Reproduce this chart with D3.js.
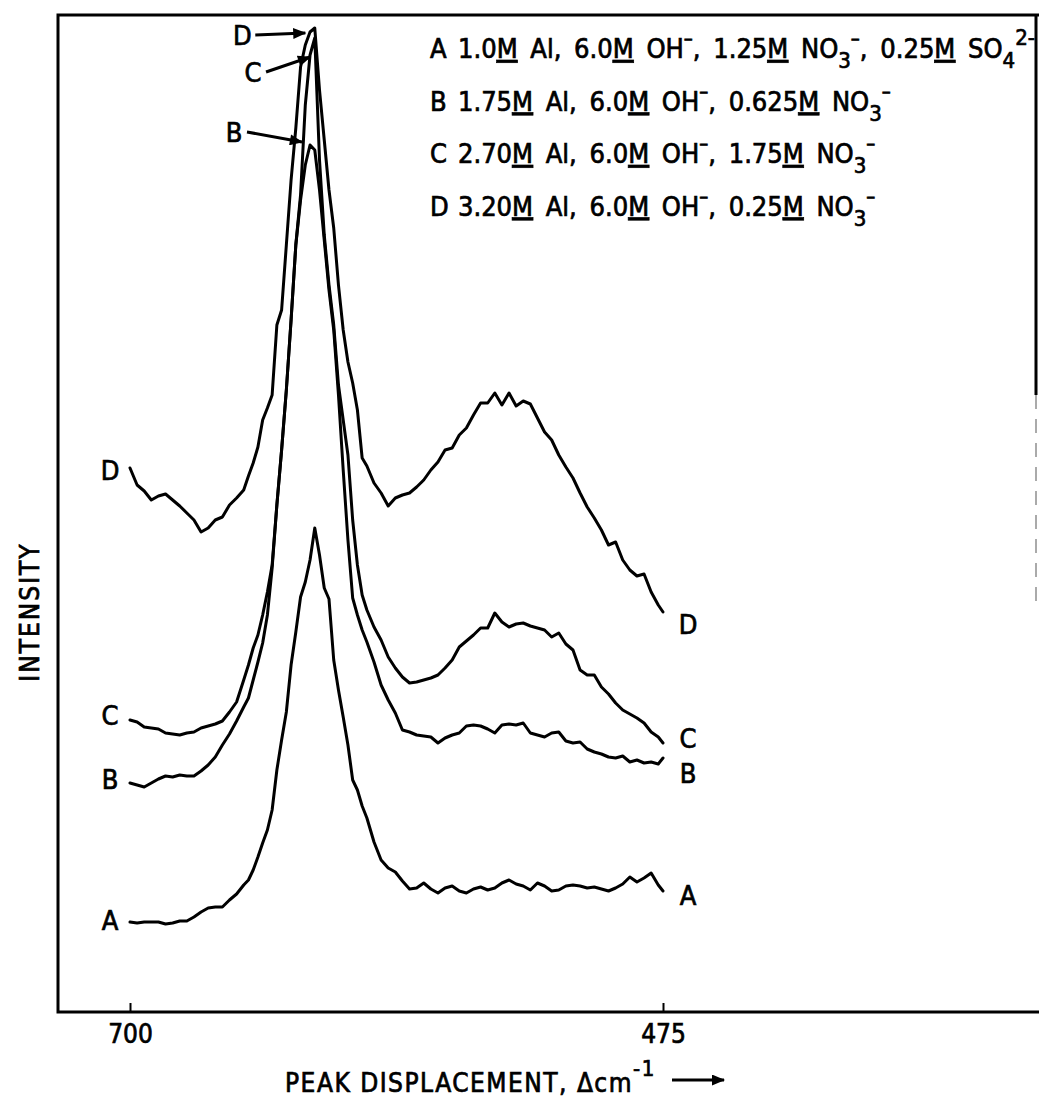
<!DOCTYPE html>
<meta charset="utf-8">
<style>
  body { margin: 0; background: #fff; }
  svg text { font-family: "DejaVu Sans Condensed", "Liberation Sans Narrow", sans-serif; fill: #000; stroke: #000; stroke-width: 0.7; }
  .trace { fill: none; stroke: #000; stroke-width: 3; stroke-linejoin: round; stroke-linecap: round; }
  .frame { stroke: #000; stroke-width: 3; fill: none; }
</style>
<body>
<script src="https://d3js.org/d3.v7.min.js"></script>
<script>
// Raman shift grid (cm-1) shared by all four traces
var wavenumbers = [700,697,694,691,688,685,682,679,676,673,670,667,664,661,658,655,652,
  650,648,646,644,642,640,638,636,634,632,630,628,626,624,622,620,618,616,614,612,610,608,606,604,602,600,
  597,594,591,588,585,582,579,576,573,570,567,564,561,558,555,552,549,546,543,540,537,534,531,528,525,522,
  519,516,513,510,507,504,501,498,495,492,489,486,483,480,477,475];

// intensities (arbitrary units, traces offset as drawn)
var seriesA = [9.0,8.9,9.0,9.0,9.0,8.8,8.9,9.1,9.1,9.5,
  10.0,10.4,10.5,10.5,11.2,11.8,12.7,13.2,14.2,15.5,
  16.9,18.2,20.2,24.2,27.2,30.0,34.7,38.0,41.5,43.0,
  45.2,48.4,45.7,42.4,41.3,35.2,32.2,29.5,26.7,23.2,
  22.2,20.6,19.4,17.0,15.2,14.4,14.0,13.1,12.3,12.4,
  12.9,12.3,11.9,12.4,12.6,12.1,11.9,12.3,12.5,12.2,
  12.4,12.9,13.2,12.8,12.6,12.2,12.9,12.6,12.1,12.2,
  12.6,12.7,12.6,12.4,12.5,12.3,12.1,12.4,12.8,13.5,
  13.0,13.4,13.9,12.7,12.1];
var seriesB = [22.9,22.7,22.5,22.9,23.3,23.6,23.5,23.7,23.6,23.6,
  24.1,24.7,25.5,26.7,27.8,29.1,30.5,31.4,33.2,35.0,
  36.9,39.7,44.4,50.7,56.2,62.2,69.2,76.7,81.2,84.7,
  86.7,86.2,82.2,77.2,72.2,68.2,61.7,54.2,47.2,41.4,
  39.7,38.2,37.0,35.0,32.7,31.2,29.9,28.2,28.0,27.7,
  27.6,27.5,26.9,27.4,27.7,27.9,28.6,28.7,28.6,28.3,
  27.9,28.7,28.8,28.7,28.9,27.9,27.7,27.5,27.9,28.0,
  27.1,26.9,27.0,26.3,26.0,25.8,25.5,25.4,25.6,25.0,
  25.2,24.9,25.0,24.8,25.4];
var seriesC = [29.2,29.0,28.5,28.4,28.3,27.9,27.8,27.7,27.9,28.0,
  28.4,28.6,28.8,29.1,30.0,31.0,33.2,34.7,36.4,37.7,
  39.7,42.0,44.7,50.7,56.2,62.2,69.2,76.7,81.7,90.7,
  95.7,97.4,85.2,77.7,72.7,68.7,62.7,59.2,55.7,49.2,
  44.7,41.7,40.2,38.5,37.2,35.5,34.4,33.5,32.9,33.0,
  33.2,33.4,33.7,34.4,35.2,36.5,37.1,37.7,38.4,38.4,
  39.9,39.0,38.5,38.8,38.9,38.6,38.4,38.2,37.5,37.9,
  36.8,36.2,34.2,33.7,33.7,32.5,31.8,30.9,30.2,29.8,
  29.4,28.9,28.0,27.5,26.9];
var seriesD = [54.4,52.7,52.1,51.2,51.6,51.8,51.2,50.6,49.9,49.2,
  48.0,48.4,49.2,49.5,50.7,51.4,52.2,53.6,54.9,56.5,
  59.2,60.4,61.7,68.7,70.2,76.7,83.2,88.4,94.5,96.7,
  98.0,98.4,92.2,87.2,82.2,78.4,72.7,68.2,65.0,62.9,
  60.2,55.4,54.6,52.9,51.9,50.6,51.4,51.7,51.9,52.5,
  53.2,54.2,55.0,56.2,56.4,57.7,58.4,59.7,60.9,60.9,
  61.9,60.7,61.9,60.6,61.1,60.8,59.4,58.0,57.2,55.7,
  54.5,53.4,51.9,50.5,49.4,48.2,46.7,47.0,45.2,44.2,
  43.6,43.8,42.0,40.7,40.0];

var seriesKeys = ["A", "B", "C", "D"];
var alConc = ["1.0", "1.75", "2.70", "3.20"];
var ohConc = ["6.0", "6.0", "6.0", "6.0"];
var no3Conc = ["1.25", "0.625", "1.75", "0.25"];
var so4Conc = ["0.25", "", "", ""];
var tickValues = [700, 475];

// where the peak arrows point: [wavenumber, intensity]
var peakArrows = [
  {key: "D", at: [626, 97.9]},
  {key: "C", at: [624, 95.5]},
  {key: "B", at: [627.4, 87.0]}
];

var width = 1039, height = 1102;
var plotLeft = 58, plotTop = 15, plotBottom = 1012, plotRight = 1036;

var svg = d3.select("body").append("svg")
    .attr("width", width)
    .attr("height", height);

var x = d3.scaleLinear().domain([700, 475]).range([130, 663]);
var y = d3.scaleLinear().domain([0, 100]).range([plotBottom, plotTop - 3]);

// frame
svg.append("path").attr("class", "frame")
    .attr("d", "M" + width + "," + plotTop + "H" + plotLeft + "V" + plotBottom + "H" + width);
svg.append("line").attr("class", "frame")
    .attr("x1", plotRight).attr("x2", plotRight).attr("y1", plotTop).attr("y2", 395);
svg.append("line")
    .attr("x1", plotRight).attr("x2", plotRight).attr("y1", 395).attr("y2", 610)
    .attr("stroke", "#aaa").attr("stroke-width", 2).attr("stroke-dasharray", "14,10");

var xAxis = svg.append("g")
    .attr("transform", "translate(0," + plotBottom + ")")
    .call(d3.axisBottom(x).tickValues(tickValues).tickSize(-9).tickPadding(13).tickFormat(d3.format("d")));
xAxis.select(".domain").remove();
xAxis.selectAll("line").attr("stroke", "#000").attr("stroke-width", 2);
xAxis.selectAll("text").attr("font-size", 26);

var data = [seriesA, seriesB, seriesC, seriesD];
var leftShift = [-2, -4, -5, 2];
var rightShift = [4, 15, -5, 12];

var line = d3.line()
    .x(function (d, i) { return x(wavenumbers[i]); })
    .y(function (d) { return y(d); });

svg.selectAll(".trace")
    .data(data)
    .enter().append("path")
    .attr("class", "trace")
    .attr("d", line);

// curve letters at both ends
svg.selectAll(".lbl-left")
    .data(data)
    .enter().append("text")
    .attr("class", "lbl-left")
    .attr("x", x(wavenumbers[0]) - 20)
    .attr("y", function (d, i) { return y(d[0]) + leftShift[i]; })
    .attr("dy", "0.36em")
    .attr("text-anchor", "middle")
    .attr("font-size", 27)
    .text(function (d, i) { return seriesKeys[i]; });

svg.selectAll(".lbl-right")
    .data(data)
    .enter().append("text")
    .attr("class", "lbl-right")
    .attr("x", x(wavenumbers[wavenumbers.length - 1]) + 25)
    .attr("y", function (d, i) { return y(d[d.length - 1]) + rightShift[i]; })
    .attr("dy", "0.36em")
    .attr("text-anchor", "middle")
    .attr("font-size", 27)
    .text(function (d, i) { return seriesKeys[i]; });

// arrows near the peak
svg.append("defs").append("marker")
    .attr("id", "head")
    .attr("viewBox", "0 0 12 10")
    .attr("refX", 11).attr("refY", 5)
    .attr("markerWidth", 14).attr("markerHeight", 11)
    .attr("markerUnits", "userSpaceOnUse")
    .attr("orient", "auto")
    .append("path").attr("d", "M0,0L12,5L0,10Z").attr("fill", "#000");

var arrowFrom = {D: [-50, 2], C: [-44, 15], B: [-55, -10]};
peakArrows.forEach(function (a) {
  var tx = x(a.at[0]), ty = y(a.at[1]);
  var fx = tx + arrowFrom[a.key][0], fy = ty + arrowFrom[a.key][1];
  svg.append("line")
      .attr("x1", fx).attr("y1", fy).attr("x2", tx).attr("y2", ty)
      .attr("stroke", "#000").attr("stroke-width", 3)
      .attr("marker-end", "url(#head)");
  svg.append("text")
      .attr("x", fx - 13).attr("y", fy)
      .attr("dy", "0.36em")
      .attr("text-anchor", "middle")
      .attr("font-size", 27)
      .text(a.key);
});

// legend
function addPart(t, str, opts) {
  var s = t.append("tspan").text(str);
  if (opts && opts.u) s.style("text-decoration", "underline");
  if (opts && opts.dy) s.attr("dy", opts.dy);
  if (opts && opts.size) s.attr("font-size", opts.size);
  if (opts && opts.x) s.attr("x", opts.x);
  return s;
}
seriesKeys.forEach(function (k, i) {
  var t = svg.append("text")
      .attr("x", 430)
      .attr("y", 58 + i * 52.5)
      .attr("font-size", 27)
      .style("word-spacing", "5px");
  addPart(t, k);
  addPart(t, alConc[i], {x: 458});
  addPart(t, "M", {u: true});
  addPart(t, " Al, " + ohConc[i]);
  addPart(t, "M", {u: true});
  addPart(t, " OH");
  addPart(t, "\u2013", {dy: -13, size: 20});
  addPart(t, ", " + no3Conc[i], {dy: 13});
  addPart(t, "M", {u: true});
  addPart(t, " NO");
  addPart(t, "3", {dy: 10, size: 22});
  addPart(t, "\u2013", {dy: -23, size: 20});
  if (so4Conc[i]) {
    addPart(t, ", " + so4Conc[i], {dy: 13});
    addPart(t, "M", {u: true});
    addPart(t, " SO");
    addPart(t, "4", {dy: 10, size: 22});
    addPart(t, "2-", {dy: -23, size: 22});
  }
});

// axis titles
svg.append("text")
    .attr("transform", "translate(39,612) rotate(-90)")
    .attr("text-anchor", "middle")
    .attr("font-size", 26)
    .style("letter-spacing", "2px")
    .text("INTENSITY");

var xt = svg.append("text")
    .attr("x", 285)
    .attr("y", 1092)
    .attr("font-size", 26)
    .style("letter-spacing", "1.5px");
xt.append("tspan").text("PEAK DISPLACEMENT,  \u0394cm");
xt.append("tspan").attr("dy", -16).attr("font-size", 22).text("-1");

svg.append("line")
    .attr("x1", 672).attr("x2", 724).attr("y1", 1080).attr("y2", 1080)
    .attr("stroke", "#000").attr("stroke-width", 3)
    .attr("marker-end", "url(#head)");
</script>
</body>
